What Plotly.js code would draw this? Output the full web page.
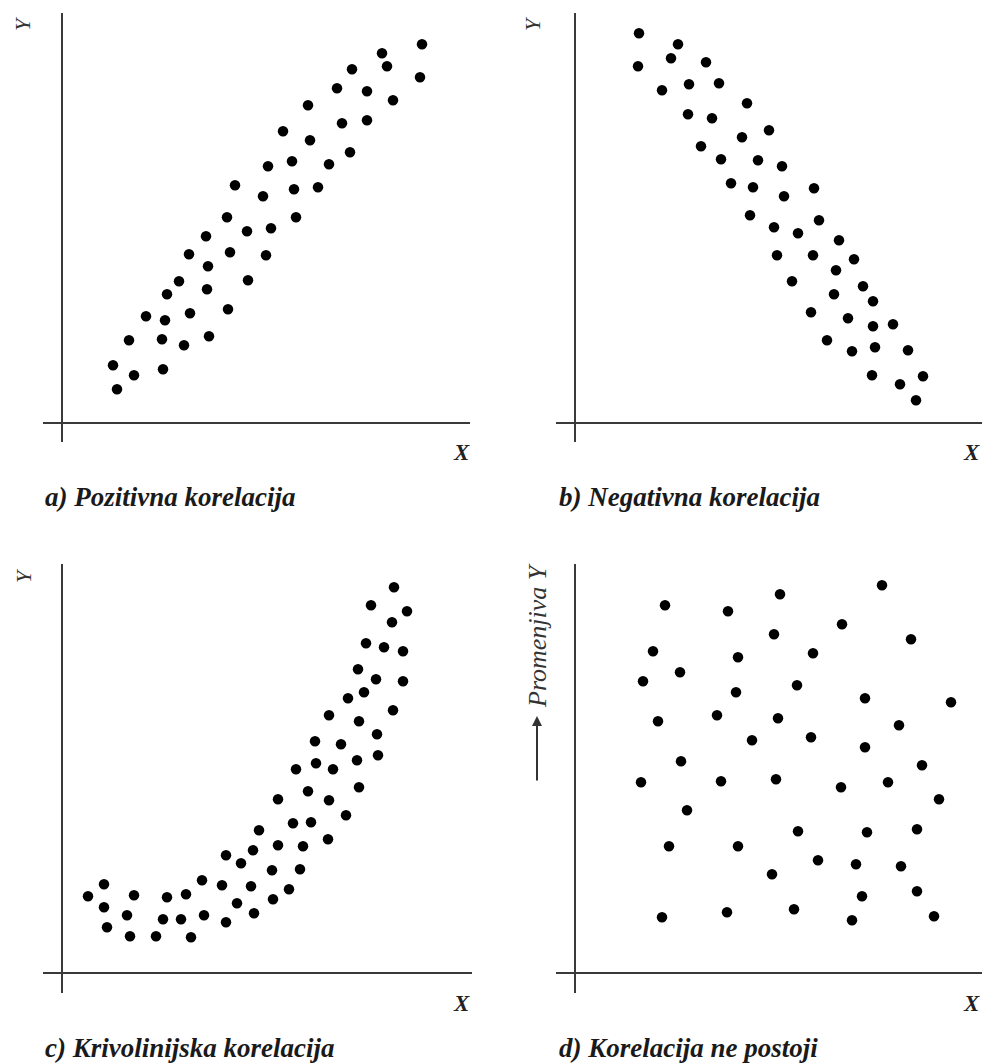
<!DOCTYPE html>
<html>
<head>
<meta charset="utf-8">
<script src="https://cdn.plot.ly/plotly-3.0.1.min.js"></script>
<style>html,body{margin:0;padding:0;background:#fff;}#chart{width:982px;height:1064px;}</style>
</head>
<body>
<div id="chart"></div>
<script>
// ---- Data (schematic units, origin at axis crossing) ----
const posX = [360,320,325,358,290,275,305,331,246,280,305,221,248,288,206,230,267,173,201,232,256,165,234,144,185,209,127,168,204,146,117,186,105,145,84,103,128,166,67,100,122,147,51,72,101,55];
const posY = [379,370,357,346,354,335,332,323,318,300,303,292,283,271,257,262,259,238,227,234,236,206,206,187,192,195,169,171,168,157,142,143,129,134,107,103,110,114,83,84,78,87,58,48,54,34];

const negX = [64,63,103,96,131,87,114,144,172,113,137,194,167,126,146,183,207,156,178,239,209,175,244,199,223,264,202,238,279,261,217,288,259,298,236,273,298,318,252,277,300,333,297,348,325,341];
const negY = [390,357,379,365,361,333,339,340,320,309,305,293,286,277,264,263,257,240,236,235,227,208,203,196,190,183,168,168,164,153,142,137,129,122,111,105,97,99,83,72,76,73,48,47,39,23];

const curX = [332,309,345,330,304,322,341,296,314,341,302,286,331,267,297,315,253,279,316,295,234,254,271,297,246,216,267,284,231,249,197,266,216,241,191,164,179,210,238,140,160,189,227,42,26,72,105,124,42,65,101,119,142,175,211,45,68,94,129,164,192];
const curY = [386,368,362,351,330,326,322,304,294,292,281,275,263,258,252,239,232,229,218,213,204,210,204,186,182,174,173,158,150,151,143,134,128,127,123,118,110,103,104,93,88,87,84,89,77,78,76,79,66,58,54,54,58,70,74,46,37,37,36,51,60];

const noneX = [307,205,90,153,267,199,336,78,163,238,105,68,222,161,290,376,142,203,83,324,177,236,290,106,347,66,146,201,266,313,364,112,223,292,342,94,163,243,281,326,197,287,342,87,152,219,277,359];
const noneY = [388,379,368,362,349,339,334,322,316,320,301,292,288,281,275,271,258,255,252,248,233,236,226,212,208,191,192,194,186,191,174,163,142,141,144,127,127,113,109,107,99,77,82,56,61,64,53,57];

const captions = ["a) Pozitivna korelacija", "b) Negativna korelacija", "c) Krivolinijska korelacija", "d) Korelacija ne postoji"];
const xLabel = "X";
const yLabel = "Y";
const yLabelD = "Promenjiva Y";

// ---- Layout helpers ----
const W = 982, H = 1064;
const xdom = (l, r) => [l / W, Math.min(1, r / W)];
const ydom = (t, b) => [1 - b / H, 1 - t / H];
const px = v => v / W;
const py = v => 1 - v / H;

const dot = {color: '#000', size: 10.5};
function tr(x, y, n) {
  return {x: x, y: y, type: 'scatter', mode: 'markers', marker: dot,
          xaxis: 'x' + (n === 1 ? '' : n), yaxis: 'y' + (n === 1 ? '' : n),
          hoverinfo: 'skip', showlegend: false};
}
const data = [tr(posX, posY, 1), tr(negX, negY, 2), tr(curX, curY, 3), tr(noneX, noneY, 4)];

function ax(domain, range, anchor) {
  return {domain: domain, range: range, anchor: anchor, fixedrange: true,
          showgrid: false, showticklabels: false, ticks: '', showline: false,
          zeroline: true, zerolinecolor: '#3a3a3a', zerolinewidth: 2};
}

const serif = "'Liberation Serif', 'Times New Roman', serif";
const capFont = {family: serif, size: 27, color: '#1a1a1a', weight: 'bold', style: 'italic'};
const xFont = {family: serif, size: 23, color: '#222', weight: 'bold', style: 'italic'};
const yFont = {family: serif, size: 22, color: '#333', style: 'italic'};

function ann(text, x, y, font, opts) {
  return Object.assign({text: text, x: px(x), y: py(y), xref: 'paper', yref: 'paper',
    showarrow: false, font: font, xanchor: 'center', yanchor: 'middle'}, opts || {});
}

const annotations = [
  ann(captions[0], 43, 497, capFont, {xanchor: 'left'}),
  ann(captions[1], 557, 497, capFont, {xanchor: 'left'}),
  ann(captions[2], 43, 1048, capFont, {xanchor: 'left'}),
  ann(captions[3], 557, 1048, capFont, {xanchor: 'left'}),
  ann(xLabel, 461, 452, xFont),
  ann(xLabel, 971, 452, xFont),
  ann(xLabel, 461, 1003, xFont),
  ann(xLabel, 971, 1003, xFont),
  ann(yLabel, 23, 24, yFont, {textangle: -90}),
  ann(yLabel, 533, 24, yFont, {textangle: -90}),
  ann(yLabel, 23, 576, yFont, {textangle: -90}),
  ann(yLabelD, 537, 636, {family: serif, size: 26, color: '#333', style: 'italic'}, {textangle: -90}),
  {text: '', x: px(537), y: py(716), xref: 'paper', yref: 'paper', showarrow: true,
   ax: 0, ay: 66, arrowhead: 2, arrowsize: 1, arrowwidth: 2, arrowcolor: '#333'}
];

const layout = {
  width: W, height: H, margin: {l: 0, r: 0, t: 0, b: 0},
  paper_bgcolor: '#fff', plot_bgcolor: 'rgba(0,0,0,0)',
  showlegend: false, hovermode: false,
  xaxis: ax(xdom(42.7, 470), [-19.3, 408], 'y'),
  yaxis: ax(ydom(12.7, 441.7), [-18.4, 410.6], 'x'),
  xaxis2: ax(xdom(555.7, 982), [-19.3, 407], 'y2'),
  yaxis2: ax(ydom(12.7, 441.7), [-18.4, 410.6], 'x2'),
  xaxis3: ax(xdom(42.7, 471.7), [-19.3, 409.7], 'y3'),
  yaxis3: ax(ydom(564, 993), [-19.7, 409.3], 'x3'),
  xaxis4: ax(xdom(555.7, 982), [-19.3, 407], 'y4'),
  yaxis4: ax(ydom(564, 993), [-19.7, 409.3], 'x4'),
  annotations: annotations
};

Plotly.newPlot('chart', data, layout, {displayModeBar: false, staticPlot: true});
</script>
</body>
</html>
